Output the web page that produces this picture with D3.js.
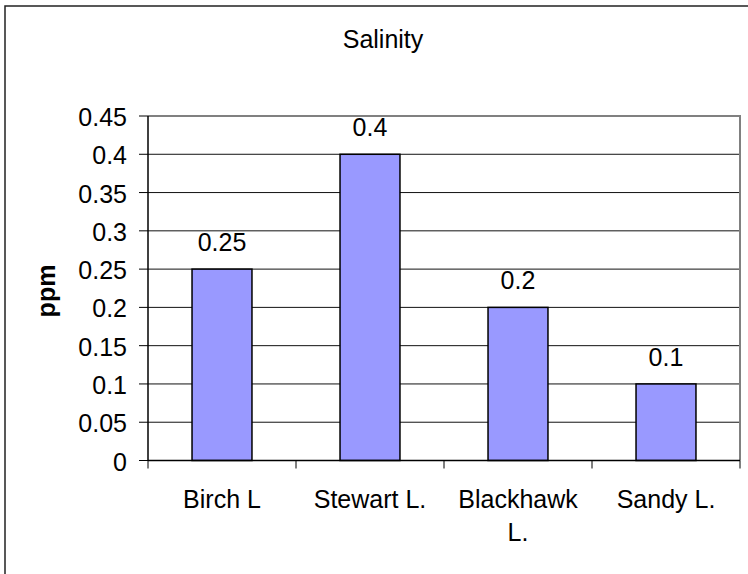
<!DOCTYPE html>
<html>
<head>
<meta charset="utf-8">
<script src="https://cdn.jsdelivr.net/npm/d3@7"></script>
<style>
  body { margin: 0; background: #fff; }
  svg { display: block; font-family: "Liberation Sans", Arial, sans-serif; }
</style>
</head>
<body>
<svg id="chart" width="748" height="574"></svg>
<script>
const categories = ["Birch L", "Stewart L.", "Blackhawk L.", "Sandy L."];
const salinity = [0.25, 0.4, 0.2, 0.1];
const yTicks = [0, 0.05, 0.1, 0.15, 0.2, 0.25, 0.3, 0.35, 0.4, 0.45];

const svg = d3.select("#chart");
const plot = { left: 148, right: 740, top: 116, bottom: 460.5 };
const fontSize = "25px";

// outer chart border (runs off the right and bottom edge)
svg.append("rect")
  .attr("x", 5).attr("y", 6)
  .attr("width", 800).attr("height", 700)
  .attr("fill", "none")
  .attr("stroke", "#222")
  .attr("stroke-width", 1.5);

const x = d3.scaleBand()
  .domain(categories)
  .range([plot.left, plot.right])
  .paddingInner(0.595)
  .paddingOuter(0.595 / 2);

const y = d3.scaleLinear()
  .domain([0, 0.45])
  .range([plot.bottom, plot.top]);

// gridlines
svg.append("g")
  .selectAll("line")
  .data(yTicks.filter(d => d > 0 && d < 0.45))
  .enter()
  .append("line")
  .attr("x1", plot.left).attr("x2", plot.right)
  .attr("y1", d => y(d)).attr("y2", d => y(d))
  .attr("stroke", "#111")
  .attr("stroke-width", 1);

// plot area border (grey top and right)
svg.append("path")
  .attr("d", `M${plot.left},${plot.top}H${plot.right}V${plot.bottom}`)
  .attr("fill", "none")
  .attr("stroke", "#808080")
  .attr("stroke-width", 2);

// bars
svg.append("g")
  .selectAll("rect")
  .data(categories)
  .enter()
  .append("rect")
  .attr("x", d => x(d))
  .attr("y", (d, i) => y(salinity[i]))
  .attr("width", x.bandwidth())
  .attr("height", (d, i) => y(0) - y(salinity[i]))
  .attr("fill", "#9999ff")
  .attr("stroke", "#000")
  .attr("stroke-width", 1.5);

// value labels
svg.append("g")
  .selectAll("text")
  .data(categories)
  .enter()
  .append("text")
  .attr("x", d => x(d) + x.bandwidth() / 2)
  .attr("y", (d, i) => y(salinity[i]) - 18)
  .attr("text-anchor", "middle")
  .attr("font-size", fontSize)
  .attr("fill", "#000")
  .text((d, i) => salinity[i]);

// y axis
const yAxis = svg.append("g");
yAxis.append("line")
  .attr("x1", plot.left).attr("x2", plot.left)
  .attr("y1", plot.top).attr("y2", plot.bottom)
  .attr("stroke", "#000").attr("stroke-width", 1.5);
yAxis.selectAll(".tick")
  .data(yTicks)
  .enter()
  .append("line")
  .attr("x1", plot.left - 9).attr("x2", plot.left)
  .attr("y1", d => y(d)).attr("y2", d => y(d))
  .attr("stroke", "#000").attr("stroke-width", 1);
yAxis.selectAll("text")
  .data(yTicks)
  .enter()
  .append("text")
  .attr("x", 127)
  .attr("y", d => y(d) + 10)
  .attr("text-anchor", "end")
  .attr("font-size", fontSize)
  .text(d => d);

// x axis
const step = x.step();
const edges = categories.map(c => x(c) - step * x.paddingInner() / 2).concat([plot.right]);
const xAxis = svg.append("g");
xAxis.append("line")
  .attr("x1", plot.left).attr("x2", plot.right)
  .attr("y1", plot.bottom).attr("y2", plot.bottom)
  .attr("stroke", "#000").attr("stroke-width", 1.5);
xAxis.selectAll(".tick")
  .data(edges)
  .enter()
  .append("line")
  .attr("x1", d => d).attr("x2", d => d)
  .attr("y1", plot.bottom).attr("y2", plot.bottom + 8)
  .attr("stroke", "#000").attr("stroke-width", 1);

// category labels, wrapped like the original
xAxis.selectAll("text")
  .data(categories)
  .enter()
  .append("text")
  .attr("text-anchor", "middle")
  .attr("font-size", fontSize)
  .each(function(d) {
    const t = d3.select(this);
    const cx = x(d) + x.bandwidth() / 2;
    const words = d.split(" ");
    let lines = [];
    let cur = "";
    const probe = t.append("tspan");
    words.forEach(w => {
      const test = cur ? cur + " " + w : w;
      probe.text(test);
      if (probe.node().getComputedTextLength() > 135 && cur) {
        lines.push(cur);
        cur = w;
      } else {
        cur = test;
      }
    });
    lines.push(cur);
    probe.remove();
    lines.forEach((line, i) => {
      t.append("tspan")
        .attr("x", cx)
        .attr("y", 508 + i * 33)
        .text(line);
    });
  });

// y axis title
svg.append("text")
  .attr("transform", "translate(55,291) rotate(-90)")
  .attr("text-anchor", "middle")
  .attr("font-size", "25px")
  .attr("font-weight", "bold")
  .text("ppm");

// chart title
svg.append("text")
  .attr("x", 383)
  .attr("y", 48)
  .attr("text-anchor", "middle")
  .attr("font-size", fontSize)
  .text("Salinity");
</script>
</body>
</html>
